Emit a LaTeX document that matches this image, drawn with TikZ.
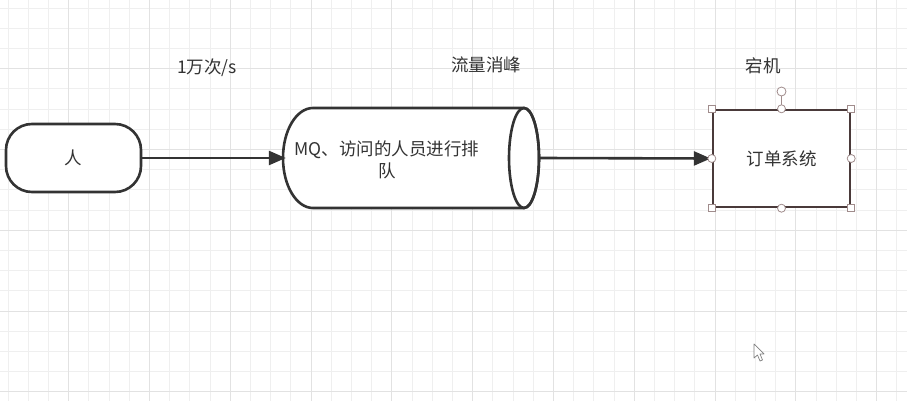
\documentclass[tikz,border=0pt]{standalone}
\usepackage{fontspec}
\setmainfont{Noto Sans CJK SC}
\usetikzlibrary{arrows.meta}
\definecolor{ink}{HTML}{333333}
\definecolor{txt}{HTML}{333333}
\definecolor{gridminor}{HTML}{EFEFEF}
\definecolor{gridmajor}{HTML}{E2E2E2}
\definecolor{selc}{HTML}{4A3A3A}
\definecolor{handle}{HTML}{A08C8C}
\tikzset{
  shapeline/.style={draw=ink, line width=2.6pt, fill=white},
  conn/.style={draw=ink, line width=2.6pt, -{Triangle[length=17pt,width=14pt]}},
  lbl/.style={text=txt, font=\fontsize{17.5}{22}\selectfont},
  hsq/.style={draw=handle, fill=white, line width=0.8pt, minimum size=7pt, inner sep=0pt},
  hci/.style={draw=handle, fill=white, line width=0.8pt, circle, minimum size=8pt, inner sep=0pt}
}
\begin{document}
\begin{tikzpicture}[x=1pt,y=-1pt]
\useasboundingbox (0,0) rectangle (907,401);
\fill[white] (0,0) rectangle (907,401);
% grid
\foreach \i in {0,...,44} {
  \draw[gridminor, line width=0.8pt] ({8+20.2*\i},0) -- ({8+20.2*\i},401);
}
\foreach \i in {0,...,19} {
  \draw[gridminor, line width=0.8pt] (0,{8+20.2*\i}) -- (907,{8+20.2*\i});
}
\foreach \i in {3,7,...,43} {
  \draw[gridmajor, line width=0.8pt] ({8+20.2*\i},0) -- ({8+20.2*\i},401);
}
\foreach \i in {3,7,...,19} {
  \draw[gridmajor, line width=0.8pt] (0,{8+20.2*\i}) -- (907,{8+20.2*\i});
}
% person
\node[shapeline, rounded corners=26pt, minimum width=135pt, minimum height=68pt, lbl] (p) at (73.5,158) {人};
% cylinder
\node[minimum width=257pt, minimum height=100pt, inner sep=0pt] (mq) at (411.5,158) {};
\path[shapeline] (524,108) -- (313,108)
  .. controls (296.4,108) and (283,130.4) .. (283,158)
  .. controls (283,185.6) and (296.4,208) .. (313,208)
  -- (524,208)
  .. controls (532.3,208) and (539,185.6) .. (539,158)
  .. controls (539,130.4) and (532.3,108) .. (524,108) -- cycle;
\draw[ink, line width=2.6pt] (524,158) ellipse [x radius=15, y radius=50];
\node[lbl, align=center] (mqt) at (387,160) {MQ、访问的人员进行排\\队};
% order system
\node[draw=selc, line width=2.4pt, fill=white, minimum width=137pt, minimum height=97pt, lbl] (sys) at (781.5,158.5) {订单系统};
% connectors
\draw[conn] (p.east) -- ([xshift=3pt]mq.west);
\draw[conn] (mq.east) -- ([xshift=-1pt]sys.west);
% selection handles
\draw[handle, line width=0.8pt] (sys.north) -- (781.5,96);
\node[hci, minimum size=9pt] (rot) at (781.5,91.5) {};
\node[hsq] (h1) at (sys.north west) {};
\node[hsq] (h2) at (sys.north east) {};
\node[hsq] (h3) at (sys.south west) {};
\node[hsq] (h4) at (sys.south east) {};
\node[hci] (h5) at (sys.north) {};
\node[hci] (h6) at (sys.south) {};
\node[hci] (h7) at (sys.west) {};
\node[hci] (h8) at (sys.east) {};
% labels
\node[lbl] (l1) at (207,68) {1万次/s};
\node[lbl] (l2) at (486,65) {流量消峰};
\node[lbl] (l3) at (763,66) {宕机};
% mouse cursor
\draw[gray, line width=0.7pt, fill=white, line join=round] (754,344) -- (754,358) -- (757.5,355) -- (760,361) -- (762.5,360) -- (760,354) -- (764,354) -- cycle;
\end{tikzpicture}
\end{document}
